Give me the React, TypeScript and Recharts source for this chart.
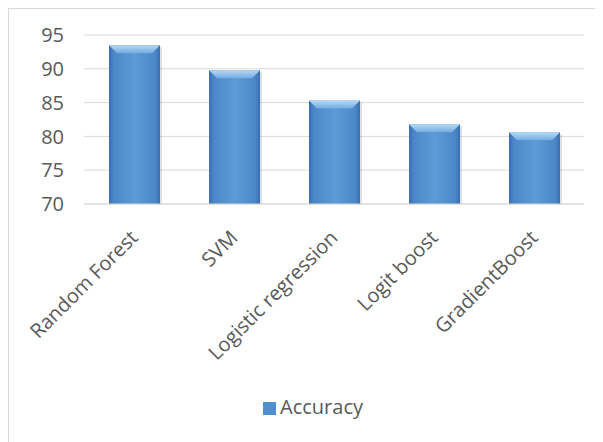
import React from "react";
import { BarChart, Bar, XAxis, YAxis, CartesianGrid, Legend } from "recharts";

const MODELS = ["Random Forest", "SVM", "Logistic regression", "Logit boost", "GradientBoost"];
const ACCURACY = [93.5, 89.8, 85.3, 81.8, 80.6];
const Y_TICKS = [70, 75, 80, 85, 90, 95];

const data = MODELS.map((name, i) => ({ name, Accuracy: ACCURACY[i] }));

const FONT = "'Open Sans', sans-serif";
const TEXT = "#595959";

// bevelled bar like the Excel style
const BevelBar = (props: any) => {
  const { x, y, width, height } = props;
  if (!height || height <= 0) return null;
  const b = Math.min(8, height / 2);
  return (
    <g>
      <rect x={x + 2} y={y + 2} width={width} height={height - 2} fill="rgba(0,0,0,0.12)" />
      <rect x={x} y={y} width={width} height={height} fill="url(#bar-side)" />
      <polygon
        points={`${x},${y} ${x + width},${y} ${x + width - b},${y + b} ${x + b},${y + b}`}
        fill="url(#bar-top)"
      />
    </g>
  );
};

const XTick = (props: any) => {
  const { x, y, payload } = props;
  const tx = x + 5;
  const ty = y + 27;
  return (
    <text
      x={tx}
      y={ty}
      transform={`rotate(-45, ${tx}, ${ty})`}
      textAnchor="end"
      fill={TEXT}
      fontSize={20}
      fontFamily={FONT}
    >
      {payload.value}
    </text>
  );
};

export default function App() {
  return (
    <div
      style={{
        width: 594,
        height: 433,
        borderLeft: "1px solid #d9d9d9",
        borderTop: "1px solid #d9d9d9",
        background: "#fff",
      }}
    >
      <BarChart
        width={594}
        height={433}
        data={data}
        margin={{ top: 26, right: 19, left: 0, bottom: 58 }}
      >
        <defs>
          <linearGradient id="bar-side" x1="0" y1="0" x2="1" y2="0">
            <stop offset="0%" stopColor="#3a6fae" />
            <stop offset="10%" stopColor="#4c88c9" />
            <stop offset="50%" stopColor="#5c9bd6" />
            <stop offset="90%" stopColor="#4c88c9" />
            <stop offset="100%" stopColor="#3a6fae" />
          </linearGradient>
          <linearGradient id="bar-top" x1="0" y1="0" x2="0" y2="1">
            <stop offset="0%" stopColor="#b9d9f4" />
            <stop offset="100%" stopColor="#72ace0" />
          </linearGradient>
        </defs>
        <CartesianGrid vertical={false} stroke="#d9d9d9" />
        <XAxis
          dataKey="name"
          height={150}
          interval={0}
          tickLine={false}
          axisLine={{ stroke: "#d9d9d9" }}
          tick={<XTick />}
        />
        <YAxis
          width={75}
          domain={[70, 95]}
          ticks={Y_TICKS}
          allowDataOverflow
          axisLine={false}
          tickLine={false}
          tickSize={0}
          tickMargin={20}
          tick={{ fill: TEXT, fontSize: 20, fontFamily: FONT }}
        />
        <Legend
          height={30}
          iconType="square"
          iconSize={13}
          wrapperStyle={{ bottom: 19, left: 12, width: 594, fontFamily: FONT, fontSize: 20 }}
          formatter={(v) => <span style={{ color: TEXT }}>{v}</span>}
        />
        <Bar
          dataKey="Accuracy"
          barSize={51}
          fill="#4f8fd0"
          shape={<BevelBar />}
          isAnimationActive={false}
        />
      </BarChart>
    </div>
  );
}
